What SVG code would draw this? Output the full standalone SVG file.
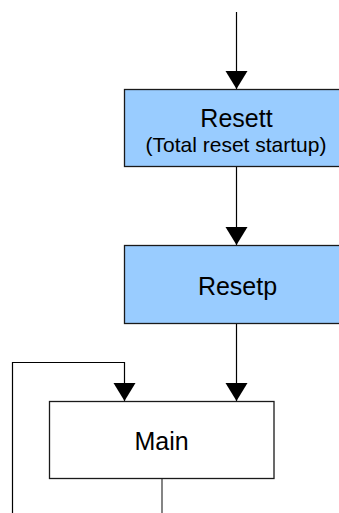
<svg xmlns="http://www.w3.org/2000/svg" width="339" height="513" viewBox="0 0 339 513">
  <defs>
    <style>
      .box { stroke: #1a1a1a; stroke-width: 1.3; }
      .blue { fill: #99ccff; }
      .white { fill: #ffffff; }
      .edge { fill: none; stroke: #000; stroke-width: 1.2; }
      .label { font-family: "Liberation Sans", Arial, sans-serif; fill: #000; text-anchor: middle; }
      .big { font-size: 25px; }
      .small { font-size: 21px; }
    </style>
    <marker id="arrow" markerUnits="userSpaceOnUse" markerWidth="20" markerHeight="24" viewBox="0 0 20 24" refX="18" refY="11" orient="auto">
      <path d="M0,0 L18,11 L0,22 Z" fill="#000"/>
    </marker>
  </defs>

  <rect width="339" height="513" fill="#ffffff"/>

  <g id="connectors">
    <path class="edge" d="M236.5,12 V89" marker-end="url(#arrow)"/>
    <path class="edge" d="M236.5,167 V245" marker-end="url(#arrow)"/>
    <path class="edge" d="M236.5,324 V401" marker-end="url(#arrow)"/>
    <path class="edge" d="M12.5,513 V362.5 H124.5 V401" marker-end="url(#arrow)"/>
    <path class="edge" d="M162,479 V513" style="stroke:#666;stroke-width:1.6"/>
  </g>

  <g id="resett">
    <rect class="box blue" x="124.5" y="89.5" width="230" height="77"/>
    <text class="label big" x="236.5" y="126.5">Resett</text>
    <text class="label small" x="236" y="151.5">(Total reset startup)</text>
  </g>

  <g id="resetp">
    <rect class="box blue" x="124.5" y="245.5" width="230" height="78"/>
    <text class="label big" x="237.5" y="295">Resetp</text>
  </g>

  <g id="main">
    <rect class="box white" x="49.5" y="401.5" width="224.5" height="77"/>
    <text class="label big" x="161.5" y="450">Main</text>
  </g>
</svg>
